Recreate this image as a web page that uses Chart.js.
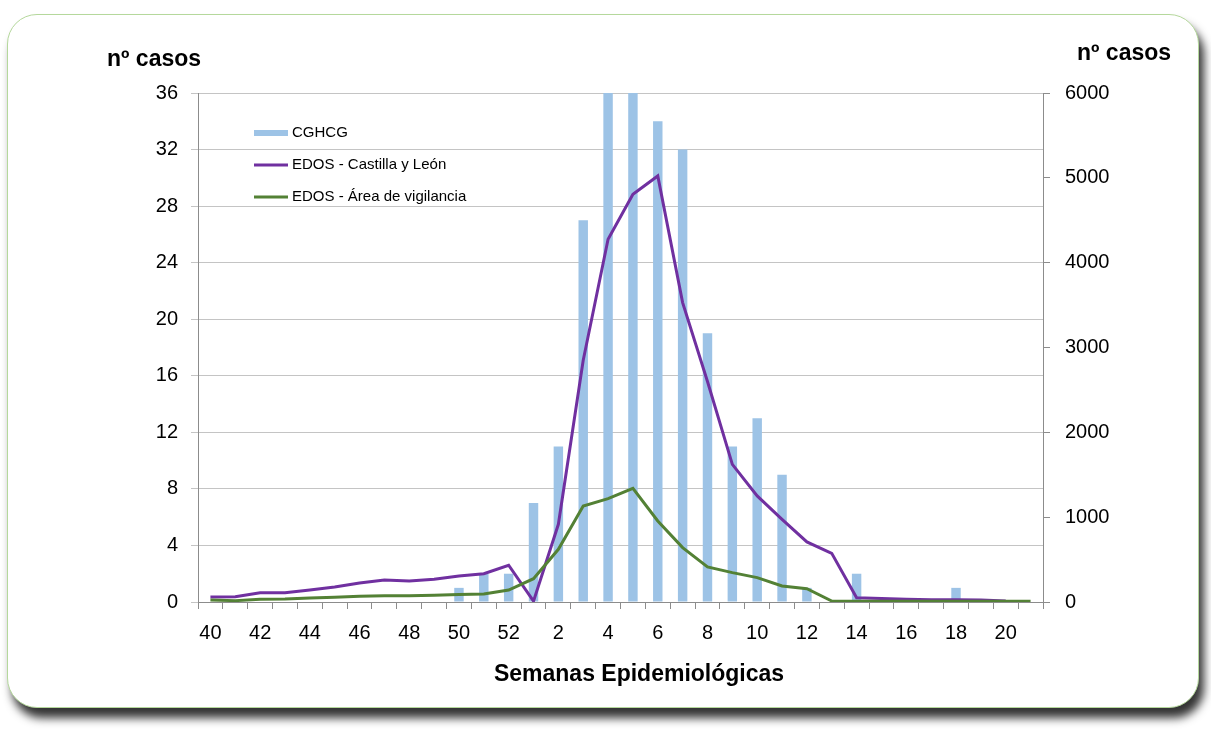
<!DOCTYPE html>
<html>
<head>
<meta charset="utf-8">
<script src="https://cdn.jsdelivr.net/npm/chart.js@4"></script>
<style>
    html, body { margin: 0; padding: 0; background: #fff; }
    #frame {
        position: absolute; left: 7px; top: 14px; width: 1190px; height: 692px;
        border: 1px solid #b5d89c; border-radius: 30px; background: #fff;
        box-shadow: 5px 10px 10px rgba(0, 0, 0, 0.8);
    }
    #chart { position: absolute; left: 0; top: 0; }
</style>
</head>
<body>
<div id="frame"></div>
<canvas id="chart" width="1211" height="729"></canvas>
<script>
// epidemiological weeks 40..52 then 1..21
const weeks = ['40', '41', '42', '43', '44', '45', '46', '47', '48', '49', '50', '51', '52',
    '1', '2', '3', '4', '5', '6', '7', '8', '9', '10', '11', '12', '13', '14', '15', '16', '17',
    '18', '19', '20', '21'];

// left axis (nº casos CGHCG)
const cghcg = [0, 0, 0, 0, 0, 0, 0, 0, 0, 0, 1, 2, 2,
    7, 11, 27, 36, 36, 34, 32, 19, 11, 13, 9, 1, 0, 2, 0, 0, 0, 1, 0, 0, 0];

// right axis (nº casos EDOS)
const edosCyL = [59, 63, 110, 110, 142, 177, 224, 260, 248, 268, 307, 334, 433,
    10, 916, 2850, 4276, 4806, 5022, 3529, 2600, 1623, 1250, 975, 708, 574, 51, 40, 31, 27,
    27, 24, 12, null];
const edosArea = [24, 16, 31, 35, 47, 55, 67, 75, 75, 79, 87, 94, 141,
    275, 621, 1132, 1219, 1340, 955, 641, 413, 346, 287, 189, 157, 12, 10, 10, 10, 10,
    10, 10, 10, 10];

const leftTicks = [0, 36, 4];
const rightTicks = [0, 6000, 1000];

const FONT = '"Liberation Sans", Arial, sans-serif';

const extraText = {
    id: 'extraText',
    afterDraw(chart) {
        const ctx = chart.ctx;
        ctx.save();
        // axis titles
        ctx.fillStyle = '#000';
        ctx.font = 'bold 23px ' + FONT;
        ctx.textBaseline = 'middle';
        ctx.textAlign = 'left';
        ctx.fillText('nº casos', 107, 60);
        ctx.fillText('nº casos', 1077, 54);
        ctx.textAlign = 'center';
        ctx.fillText('Semanas Epidemiológicas', 639, 675);

        // legend inside plot area
        ctx.textAlign = 'left';
        ctx.font = '15px ' + FONT;
        chart.data.datasets.forEach((ds, i) => {
            const y = 133 + i * 32;
            ctx.strokeStyle = ds.type === 'bar' ? ds.backgroundColor : ds.borderColor;
            ctx.lineWidth = ds.type === 'bar' ? 6 : 3;
            ctx.beginPath();
            ctx.moveTo(254, y);
            ctx.lineTo(288, y);
            ctx.stroke();
            ctx.fillStyle = '#000';
            ctx.fillText(ds.label, 292, y);
        });
        ctx.restore();
    }
};

new Chart(document.getElementById('chart').getContext('2d'), {
    data: {
        labels: weeks,
        datasets: [
            {
                type: 'bar',
                label: 'CGHCG',
                data: cghcg,
                yAxisID: 'y',
                backgroundColor: '#9dc3e6',
                borderColor: '#9dc3e6',
                categoryPercentage: 1,
                barPercentage: 0.38,
                order: 3
            },
            {
                type: 'line',
                label: 'EDOS - Castilla y León',
                data: edosCyL,
                yAxisID: 'y1',
                borderColor: '#7030a0',
                backgroundColor: '#7030a0',
                borderWidth: 3,
                pointRadius: 0,
                tension: 0,
                order: 2
            },
            {
                type: 'line',
                label: 'EDOS - Área de vigilancia',
                data: edosArea,
                yAxisID: 'y1',
                borderColor: '#538135',
                backgroundColor: '#538135',
                borderWidth: 3,
                pointRadius: 0,
                tension: 0,
                order: 1
            }
        ]
    },
    options: {
        responsive: false,
        animation: false,
        layout: { padding: { top: 93, left: 0, right: 0, bottom: 0 } },
        plugins: {
            legend: { display: false },
            tooltip: { enabled: false }
        },
        scales: {
            x: {
                offset: true,
                grid: { display: true, drawOnChartArea: false, offset: true, tickLength: 7, color: '#8c8c8c' },
                border: { color: '#8c8c8c' },
                ticks: {
                    autoSkip: false,
                    maxRotation: 0,
                    padding: 12,
                    color: '#000',
                    font: { size: 20, family: FONT },
                    callback: function (value, index) {
                        return index % 2 === 0 ? this.getLabelForValue(value) : '';
                    }
                },
                afterFit: (scale) => { scale.height = 127; }
            },
            y: {
                position: 'left',
                min: leftTicks[0],
                max: leftTicks[1],
                grid: { color: '#c4c4c4', tickLength: 7 },
                border: { color: '#8c8c8c' },
                ticks: {
                    stepSize: leftTicks[2],
                    padding: 13,
                    color: '#000',
                    font: { size: 20, family: FONT }
                },
                afterFit: (scale) => { scale.width = 198; }
            },
            y1: {
                position: 'right',
                min: rightTicks[0],
                max: rightTicks[1],
                grid: { drawOnChartArea: false, tickLength: 7, color: '#8c8c8c' },
                border: { color: '#8c8c8c' },
                ticks: {
                    stepSize: rightTicks[2],
                    padding: 15,
                    color: '#000',
                    font: { size: 20, family: FONT },
                    callback: (value) => String(value)
                },
                afterFit: (scale) => { scale.width = 168; }
            }
        }
    },
    plugins: [extraText]
});
</script>
</body>
</html>
